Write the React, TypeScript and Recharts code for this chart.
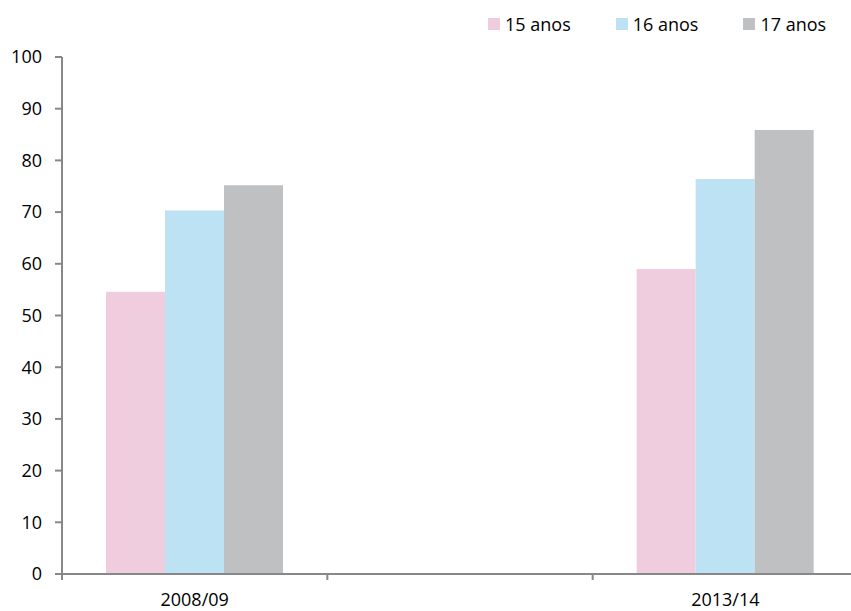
import { BarChart, Bar, XAxis, YAxis } from 'recharts';

const categories = ['2008/09', '', '2013/14'];
const anos15 = [54.6, null, 59.0];
const anos16 = [70.3, null, 76.4];
const anos17 = [75.2, null, 85.9];
const yTicks = [0, 10, 20, 30, 40, 50, 60, 70, 80, 90, 100];

const SERIES = [
  { key: '15 anos', values: anos15, color: '#EFCDDF' },
  { key: '16 anos', values: anos16, color: '#BDE2F4' },
  { key: '17 anos', values: anos17, color: '#BFC0C2' },
];

const FONT = '"Open Sans", sans-serif';
const CHART_W = 880;
const CHART_H = 611;
const MARGIN = { top: 57, right: 22, bottom: 0, left: 0 };
const Y_W = 62;
const BAND = (CHART_W - MARGIN.left - MARGIN.right - Y_W) / categories.length;

const data = categories.map((cat, i) => {
  const row: Record<string, string | number | null> = { cat };
  SERIES.forEach((s) => {
    row[s.key] = s.values[i];
  });
  return row;
});

function CategoryTick(props: any) {
  const { x, y, payload } = props;
  const lineX = x - BAND / 2;
  return (
    <g>
      <line x1={lineX} x2={lineX} y1={y} y2={y + 6} stroke="#888" strokeWidth={2} />
      {payload.value ? (
        <text x={x} y={y + 27} textAnchor="middle" dominantBaseline="middle" fill="#000" fontSize={18} fontFamily={FONT}>
          {payload.value}
        </text>
      ) : null}
    </g>
  );
}

export default function App() {
  return (
    <div style={{ position: 'fixed', left: 0, top: 0, width: 851, height: 611, overflow: 'hidden', background: '#fff' }}>
      <BarChart
        width={CHART_W}
        height={CHART_H}
        data={data}
        margin={MARGIN}
        barGap={0}
        barCategoryGap={44}
      >
        <XAxis
          dataKey="cat"
          height={37}
          axisLine={{ stroke: '#888', strokeWidth: 2 }}
          tickLine={false}
          tickSize={0}
          tickMargin={0}
          interval={0}
          tick={<CategoryTick />}
        />
        <YAxis
          width={Y_W}
          domain={[0, 100]}
          ticks={yTicks}
          interval={0}
          axisLine={{ stroke: '#888', strokeWidth: 2 }}
          tickLine={{ stroke: '#888', strokeWidth: 2 }}
          tickSize={7}
          tickMargin={13}
          tick={{ fill: '#000', fontSize: 18, fontFamily: FONT }}
        />
        {SERIES.map((s) => (
          <Bar key={s.key} dataKey={s.key} fill={s.color} isAnimationActive={false} />
        ))}
      </BarChart>
      <div style={{ position: 'absolute', top: 12, left: 488, display: 'flex', whiteSpace: 'nowrap', fontFamily: FONT, fontSize: 18, color: '#000' }}>
        {SERIES.map((s, i) => (
          <div key={s.key} style={{ display: 'flex', alignItems: 'center', marginRight: i < SERIES.length - 1 ? 45 : 0 }}>
            <div style={{ width: 12, height: 12, background: s.color, marginRight: 5 }} />
            <span style={{ lineHeight: '24px' }}>{s.key}</span>
          </div>
        ))}
      </div>
    </div>
  );
}
